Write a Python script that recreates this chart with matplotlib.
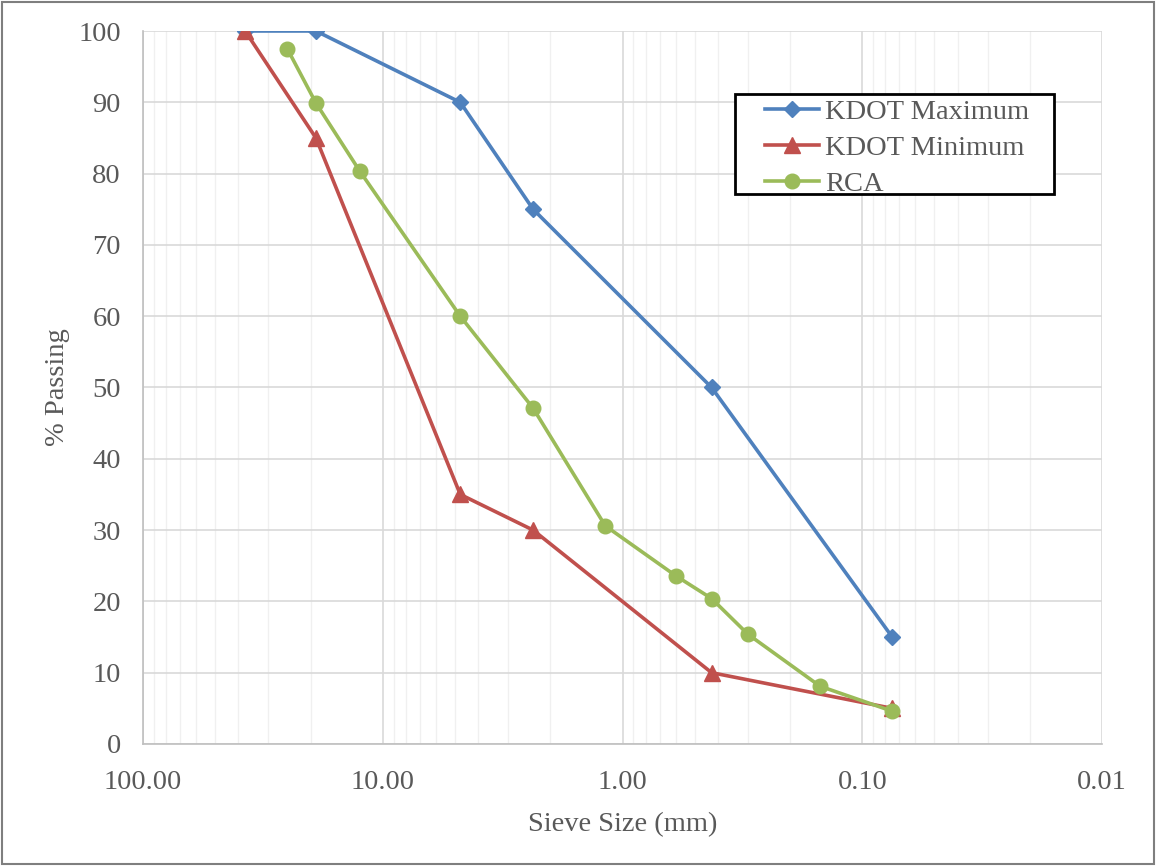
import matplotlib.pyplot as plt
from matplotlib.ticker import FixedLocator, FixedFormatter, LogLocator, NullFormatter

plt.rcParams['font.family'] = ['Liberation Serif', 'DejaVu Serif']

# sieve sizes (mm) and percent passing
kdot_sizes = [37.5, 19.0, 4.75, 2.36, 0.425, 0.075]
kdot_max = [100, 100, 90, 75, 50, 15]
kdot_min = [100, 85, 35, 30, 10, 5]

rca_sizes = [25.0, 19.0, 12.5, 4.75, 2.36, 1.18, 0.6, 0.425, 0.3, 0.15, 0.075]
rca_passing = [97.5, 89.9, 80.4, 60.0, 47.1, 30.6, 23.6, 20.4, 15.4, 8.1, 4.6]

x_ticks = [100, 10, 1, 0.1, 0.01]
x_tick_labels = ['100.00', '10.00', '1.00', '0.10', '0.01']

text_color = '#595959'
fs = 20.5

fig = plt.figure(figsize=(11.56, 8.66), dpi=100)
ax = fig.add_axes([0.1237, 0.1409, 0.8296, 0.8233])

ax.plot(kdot_sizes, kdot_max, color='#4F81BD', lw=2.6, marker='D', ms=8.5,
        label='KDOT Maximum', zorder=3)
ax.plot(kdot_sizes, kdot_min, color='#C0504D', lw=2.6, marker='^', ms=11,
        label='KDOT Minimum', zorder=3)
ax.plot(rca_sizes, rca_passing, color='#9BBB59', lw=2.6, marker='o', ms=10.5,
        label='RCA', zorder=3)

ax.set_xscale('log')
ax.set_xlim(100, 0.01)
ax.set_ylim(0, 100)
ax.xaxis.set_major_locator(FixedLocator(x_ticks))
ax.xaxis.set_major_formatter(FixedFormatter(x_tick_labels))
ax.xaxis.set_minor_locator(LogLocator(base=10, subs=range(2, 10)))
ax.xaxis.set_minor_formatter(NullFormatter())
ax.set_yticks(range(0, 101, 10))

ax.grid(True, which='major', color='#d9d9d9', lw=1.2, zorder=0)
ax.grid(True, which='minor', axis='x', color='#f0f0f0', lw=1.0, zorder=0)
ax.set_axisbelow(True)

for side in ['top', 'right']:
    ax.spines[side].set_visible(False)
for side in ['left', 'bottom']:
    ax.spines[side].set_color('#bfbfbf')
    ax.spines[side].set_linewidth(1.2)

ax.tick_params(which='both', length=0, labelsize=fs, colors=text_color)
ax.tick_params(axis='x', pad=19)
ax.tick_params(axis='y', pad=16)

ax.set_xlabel('Sieve Size (mm)', fontsize=fs, color=text_color, labelpad=12)
ax.set_ylabel('% Passing', fontsize=fs, color=text_color, labelpad=6)

# legend entries without a frame, boxed separately
leg = ax.legend(loc='upper left', bbox_to_anchor=(0.6486, 0.905), fontsize=fs,
                frameon=False, handlelength=1.9, borderpad=0, borderaxespad=0,
                labelspacing=0.36, handletextpad=0.2)
for t in leg.get_texts():
    t.set_color(text_color)
ax.add_patch(plt.Rectangle((0.6173, 0.7714), 0.3327, 0.1402, transform=ax.transAxes,
                           fill=True, facecolor='white', edgecolor='black', lw=2,
                           zorder=4, clip_on=False))
leg.set_zorder(5)

# outer chart frame
fig.patches.append(plt.Rectangle((0.002, 0.002), 0.996, 0.996, transform=fig.transFigure,
                                 fill=False, edgecolor='#7f7f7f', lw=1.5))

fig.savefig('out.png', dpi=100)
